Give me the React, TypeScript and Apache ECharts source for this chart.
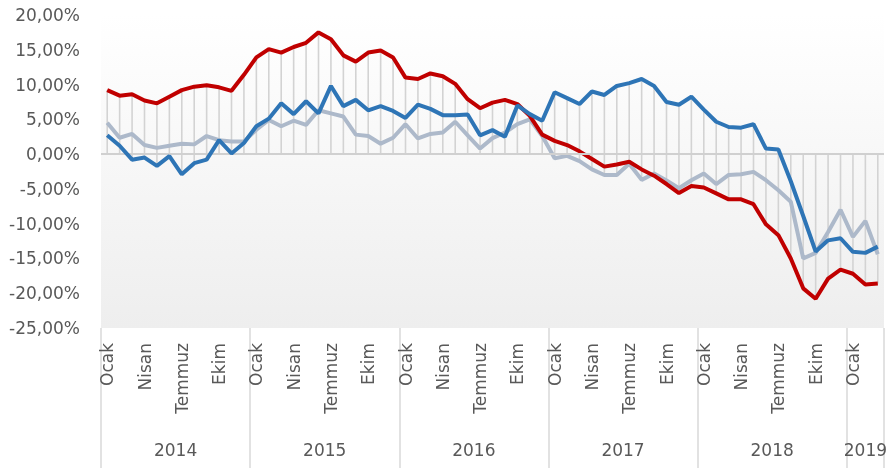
import React, { useEffect, useRef } from 'react';
import * as echarts from 'echarts';

const monthNames = ['Ocak', 'Şubat', 'Mart', 'Nisan', 'Mayıs', 'Haziran', 'Temmuz', 'Ağustos', 'Eylül', 'Ekim', 'Kasım', 'Aralık'];
const years = ['2014', '2015', '2016', '2017', '2018', '2019'];
const shownMonths = ['Ocak', 'Nisan', 'Temmuz', 'Ekim'];

const redSeries = [
  9.2, 8.4, 8.6, 7.7, 7.3, 8.25, 9.2, 9.7, 9.9, 9.6, 9.1, 11.4,
  13.9, 15.1, 14.6, 15.4, 16.0, 17.5, 16.5, 14.2, 13.3, 14.6, 14.9, 13.9,
  11.0, 10.8, 11.6, 11.2, 10.1, 7.9, 6.6, 7.4, 7.8, 7.2, 5.5, 2.8,
  1.9, 1.3, 0.4, -0.7, -1.8, -1.5, -1.1, -2.2, -3.1, -4.3, -5.6, -4.6,
  -4.8, -5.65, -6.5, -6.5, -7.2, -10.1, -11.65, -15.0, -19.3, -20.8, -17.9, -16.6,
  -17.2, -18.75, -18.6,
];

const blueSeries = [
  2.7, 1.2, -0.8, -0.5, -1.7, -0.3, -2.9, -1.3, -0.8, 2.0, 0.1, 1.6,
  4.0, 5.1, 7.3, 5.75, 7.6, 5.85, 9.8, 6.9, 7.8, 6.3, 6.9, 6.2,
  5.2, 7.1, 6.5, 5.6, 5.6, 5.7, 2.7, 3.45, 2.5, 7.0, 5.75, 4.8,
  8.9, 8.05, 7.2, 9.0, 8.5, 9.8, 10.2, 10.8, 9.8, 7.5, 7.1, 8.25,
  6.4, 4.65, 3.9, 3.8, 4.3, 0.8, 0.65, -3.9, -8.9, -14.0, -12.4, -12.1,
  -14.05, -14.2, -13.3,
];

const graySeries = [
  4.5, 2.35, 2.9, 1.3, 0.9, 1.2, 1.5, 1.4, 2.6, 2.0, 1.8, 1.8,
  3.5, 4.9, 4.0, 4.8, 4.2, 6.3, 5.85, 5.4, 2.8, 2.6, 1.5, 2.35,
  4.3, 2.25, 2.9, 3.1, 4.65, 2.7, 0.8, 2.3, 3.1, 4.3, 5.0, 2.6,
  -0.6, -0.25, -1.0, -2.2, -3.0, -3.0, -1.4, -3.7, -2.8, -3.8, -4.9, -3.75,
  -2.8, -4.3, -3.0, -2.9, -2.55, -3.75, -5.2, -6.85, -15.0, -14.2, -11.2, -8.0,
  -11.9, -9.6, -14.4,
];

const monthCount = redSeries.length;
const categories = Array.from({ length: monthCount }, (_, i) => `${monthNames[i % 12]} ${years[Math.floor(i / 12)]}`);

// half-month slots for the year axis (boundaryGap false)
const slotCount = monthCount * 2 + 1;
const yearSlotLabels: string[] = Array.from({ length: slotCount }, () => '');
const yearBoundarySlots: number[] = [];
years.forEach((y, j) => {
  const start = j * 12;
  const end = Math.min((j + 1) * 12, monthCount);
  if (start >= monthCount) return;
  yearSlotLabels[start + end] = y;
  yearBoundarySlots.push(start * 2);
});
yearBoundarySlots.push(slotCount - 1);
const yearSlots = Array.from({ length: slotCount }, (_, k) => `s${k}`);

const dropData = categories.map((_, i) => {
  const vals = [0, redSeries[i], blueSeries[i], graySeries[i]];
  return [i, Math.min(...vals), Math.max(...vals)];
});

const FONT = 'DejaVu Sans';
const TEXT = '#595959';

export default function App() {
  const ref = useRef<HTMLDivElement>(null);
  useEffect(() => {
    const chart = echarts.init(ref.current!, null, { renderer: 'svg' });
    chart.setOption({
      animation: false,
      grid: {
        left: 101,
        top: 15,
        width: 789,
        height: 313,
        show: true,
        borderWidth: 0,
        backgroundColor: new echarts.graphic.LinearGradient(0, 0, 0, 1, [
          { offset: 0, color: '#ffffff' },
          { offset: 1, color: '#eeeeee' },
        ]),
      },
      xAxis: [
        {
          type: 'category',
          data: categories,
          boundaryGap: true,
          position: 'bottom',
          axisLine: { show: false },
          axisTick: { show: false },
          splitLine: { show: false },
          axisLabel: {
            rotate: 90,
            margin: 15,
            interval: (idx: number) => shownMonths.includes(monthNames[idx % 12]),
            formatter: (v: string) => v.split(' ')[0],
            fontFamily: FONT,
            fontSize: 17,
            color: TEXT,
          },
        },
        {
          type: 'category',
          data: yearSlots,
          boundaryGap: false,
          position: 'bottom',
          axisLine: { show: false },
          axisTick: {
            show: true,
            length: 140,
            interval: (idx: number) => yearBoundarySlots.includes(idx),
            lineStyle: { color: '#d9d9d9', width: 1.5 },
          },
          splitLine: { show: false },
          axisLabel: {
            margin: 113,
            interval: (idx: number) => yearSlotLabels[idx] !== '',
            formatter: (_v: string, idx: number) => yearSlotLabels[idx],
            fontFamily: FONT,
            fontSize: 17,
            color: TEXT,
          },
        },
      ],
      yAxis: {
        type: 'value',
        min: -25,
        max: 20,
        interval: 5,
        axisLine: { show: false },
        axisTick: { show: false },
        splitLine: { show: false },
        axisLabel: {
          margin: 21,
          formatter: (v: number) => v.toFixed(2).replace('.', ',') + '%',
          fontFamily: FONT,
          fontSize: 17,
          color: TEXT,
        },
      },
      series: [
        {
          type: 'custom',
          name: 'drop',
          xAxisIndex: 0,
          yAxisIndex: 0,
          z: 1,
          silent: true,
          encode: { x: 0, y: [1, 2] },
          data: dropData,
          renderItem: (_params: any, api: any) => {
            const i = api.value(0);
            const p1 = api.coord([i, api.value(1)]);
            const p2 = api.coord([i, api.value(2)]);
            return {
              type: 'line',
              shape: { x1: p1[0], y1: p1[1], x2: p2[0], y2: p2[1] },
              style: { stroke: '#d3d3d3', lineWidth: 1.6 },
            };
          },
          markLine: {
            silent: true,
            symbol: 'none',
            label: { show: false },
            lineStyle: { color: '#d0d0d0', width: 2, type: 'solid' },
            data: [{ yAxis: 0 }],
          },
        },
        {
          type: 'line',
          name: 'Seri 3',
          data: graySeries,
          symbol: 'none',
          z: 3,
          lineStyle: { color: '#adb9ca', width: 4 },
          itemStyle: { color: '#adb9ca' },
        },
        {
          type: 'line',
          name: 'Seri 1',
          data: redSeries,
          symbol: 'none',
          z: 4,
          lineStyle: { color: '#c00000', width: 4 },
          itemStyle: { color: '#c00000' },
        },
        {
          type: 'line',
          name: 'Seri 2',
          data: blueSeries,
          symbol: 'none',
          z: 5,
          lineStyle: { color: '#2e75b6', width: 4 },
          itemStyle: { color: '#2e75b6' },
        },
      ],
    });
    return () => chart.dispose();
  }, []);
  return <div ref={ref} style={{ position: 'fixed', left: 0, top: 0, width: 890, height: 468 }} />;
}
